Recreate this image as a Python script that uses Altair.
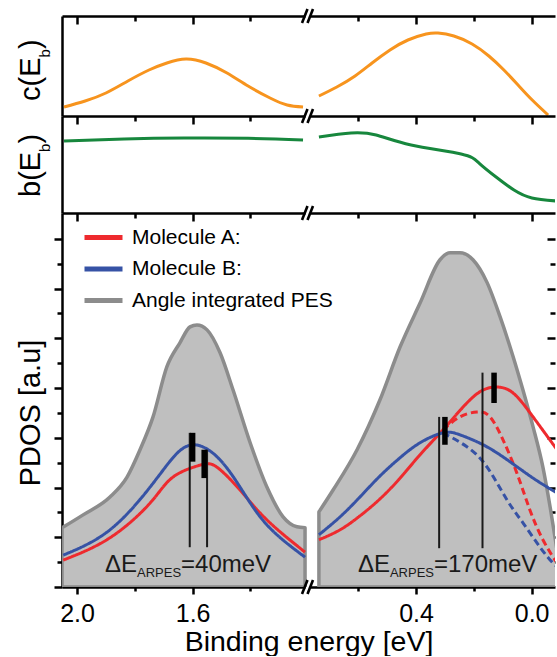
import altair as alt
import pandas as pd

FONT = "Liberation Sans"

# ---------------- data ----------------
# c(Eb) panel (arbitrary units 0..1)
c_left_E = [2.045, 1.972, 1.900, 1.824, 1.751, 1.689, 1.623, 1.554, 1.481, 1.408, 1.332, 1.273, 1.218]
c_left_v = [0.09, 0.15, 0.23, 0.35, 0.46, 0.53, 0.57, 0.53, 0.43, 0.30, 0.18, 0.11, 0.09]
c_right_E = [0.736, 0.674, 0.611, 0.552, 0.490, 0.428, 0.365, 0.324, 0.269, 0.206, 0.148, 0.096, 0.047, -0.002, -0.057]
c_right_v = [0.20, 0.29, 0.40, 0.53, 0.66, 0.76, 0.82, 0.83, 0.80, 0.72, 0.60, 0.46, 0.31, 0.16, 0.01]

# b(Eb) panel
b_left_E = [2.045, 1.837, 1.630, 1.408, 1.218]
b_left_v = [0.742, 0.763, 0.773, 0.770, 0.753]
b_right_E = [0.736, 0.625, 0.538, 0.417, 0.244, 0.182, 0.123, 0.061, -0.001, -0.085]
b_right_v = [0.784, 0.825, 0.804, 0.701, 0.608, 0.515, 0.371, 0.237, 0.155, 0.124]

# angle integrated PES
pes_left_E = [2.052, 1.979, 1.886, 1.827, 1.782, 1.737, 1.689, 1.644, 1.609, 1.585, 1.550, 1.505, 1.460, 1.401, 1.343, 1.287, 1.239, 1.211]
pes_left_v = [1.19, 1.45, 1.81, 2.21, 2.76, 3.42, 4.43, 4.91, 5.23, 5.27, 5.17, 4.71, 3.96, 2.90, 2.01, 1.41, 1.21, 1.19]
pes_right_E = [0.736, 0.687, 0.604, 0.525, 0.455, 0.386, 0.317, 0.282, 0.248, 0.203, 0.154, 0.109, 0.064, 0.030, -0.005, -0.039, -0.064, -0.088]
pes_right_v = [1.51, 1.95, 2.76, 3.76, 4.83, 5.71, 6.58, 6.72, 6.72, 6.58, 6.12, 5.43, 4.63, 3.96, 3.22, 2.41, 1.61, 0.74]

# Molecule A (red)
A_left_E = [2.048, 1.886, 1.747, 1.668, 1.574, 1.516, 1.436, 1.343, 1.211]
A_left_v = [0.54, 0.99, 1.69, 2.21, 2.45, 2.41, 1.95, 1.35, 0.70]
A_right_E = [0.736, 0.663, 0.594, 0.525, 0.455, 0.386, 0.307, 0.224, 0.168, 0.120, 0.064, -0.005, -0.088]
A_right_v = [0.95, 1.15, 1.43, 1.77, 2.19, 2.66, 3.16, 3.70, 3.96, 4.02, 3.90, 3.42, 2.76]
A_dash_E = [0.307, 0.248, 0.189, 0.144, 0.099, 0.051, 0.006, -0.039, -0.081, -0.088]
A_dash_v = [3.16, 3.42, 3.52, 3.42, 2.96, 2.29, 1.55, 0.95, 0.54, 0.48]

# Molecule B (blue)
B_left_E = [2.048, 1.886, 1.747, 1.668, 1.599, 1.516, 1.436, 1.343, 1.211]
B_left_v = [0.64, 1.15, 2.01, 2.60, 2.86, 2.62, 2.01, 1.25, 0.60]
B_right_E = [0.736, 0.663, 0.594, 0.525, 0.455, 0.386, 0.307, 0.248, 0.168, 0.085, -0.005, -0.088]
B_right_v = [1.05, 1.41, 1.81, 2.23, 2.60, 2.90, 3.10, 3.06, 2.86, 2.56, 2.19, 1.89]
B_dash_E = [0.307, 0.224, 0.154, 0.085, 0.030, -0.029, -0.074, -0.088]
B_dash_v = [3.10, 2.82, 2.41, 1.75, 1.29, 0.80, 0.48, 0.42]

# peak markers
thin_E = [1.61, 1.55, 0.32, 0.17]
thin_top = [3.10, 2.76, 3.42, 4.31]
thin_bot = [0.80, 0.80, 0.78, 0.78]
thick_E = [1.60, 1.56, 0.30, 0.13]
thick_top = [3.10, 2.76, 3.42, 4.31]
thick_bot = [2.52, 2.19, 2.86, 3.70]

# annotations
ann_E = [1.903, 0.601]
ann_v = [0.30, 0.30]
ann_text = ["=40meV", "=170meV"]

series_names = ["Molecule A:", "Molecule B:", "Angle integrated PES"]
series_colors = ["#EE2A2E", "#3652A5", "#8C8C8C"]

x_major = [2.0, 1.6, 0.4, 0.0]
x_minor = [1.8, 1.4, 0.6, 0.2]

# ---------------- layout constants ----------------
SHIFT = 0.427      # offset of the low-energy segment after the axis break
BREAK_U = 1.19
PX_PER_U = 289.0
W = 493
H_C, H_B, H_M = 100, 97, 374
U_MAX = 2.052
U_MIN = U_MAX - W / PX_PER_U
Y_MAX = 7.52
GAP = [243, 5, 3000]
CURVE = "natural"


def to_u(e):
    return e if e > 1.0 else e + SHIFT


def seg_frame(pairs):
    rows = []
    for E, v, extra in pairs:
        for e, val in zip(E, v):
            r = {"E": e, "u": to_u(e), "v": val}
            r.update(extra)
            rows.append(r)
    return pd.DataFrame(rows)


c_df = seg_frame([(c_left_E, c_left_v, {"seg": "L"}), (c_right_E, c_right_v, {"seg": "R"})])
b_df = seg_frame([(b_left_E, b_left_v, {"seg": "L"}), (b_right_E, b_right_v, {"seg": "R"})])
pes_df = seg_frame([
    (pes_left_E, pes_left_v, {"seg": "L", "series": series_names[2]}),
    (pes_right_E, pes_right_v, {"seg": "R", "series": series_names[2]}),
])
mol_df = seg_frame([
    (A_left_E, A_left_v, {"curve": "AL", "series": series_names[0], "style": "solid"}),
    (A_right_E, A_right_v, {"curve": "AR", "series": series_names[0], "style": "solid"}),
    (A_dash_E, A_dash_v, {"curve": "AD", "series": series_names[0], "style": "dashed"}),
    (B_left_E, B_left_v, {"curve": "BL", "series": series_names[1], "style": "solid"}),
    (B_right_E, B_right_v, {"curve": "BR", "series": series_names[1], "style": "solid"}),
    (B_dash_E, B_dash_v, {"curve": "BD", "series": series_names[1], "style": "dashed"}),
])
thin_df = pd.DataFrame({"u": [to_u(e) for e in thin_E], "top": thin_top, "bot": thin_bot})
thick_df = pd.DataFrame({"u": [to_u(e) for e in thick_E], "top": thick_top, "bot": thick_bot})
ann_df = pd.DataFrame({"u": [to_u(e) for e in ann_E], "v": ann_v, "t": ann_text})
one = pd.DataFrame({"k": [0]})

# ---------------- scales / axes ----------------
xscale = alt.Scale(domain=[U_MAX, U_MIN], nice=False, zero=False)
ymain = alt.Scale(domain=[0, Y_MAX], nice=False, zero=False)
yunit = alt.Scale(domain=[0, 1], nice=False, zero=False)
stroke_scale = alt.Scale(domain=series_names, range=series_colors)

x_ticks = sorted([to_u(e) for e in x_major + x_minor], reverse=True)
major_test = " || ".join(f"abs(datum.value - {to_u(e)}) < 1e-6" for e in x_major)


def cond(test, a, b):
    return {"condition": {"test": test, "value": a}, "value": b}


def top_frame_axis(h):
    return alt.Axis(orient="bottom", offset=-h, values=x_ticks, labels=False, title=None,
                    domainColor="black", domainWidth=2.5, domainDash=GAP,
                    tickColor="black", tickWidth=2.5, tickSize=cond(major_test, 8, 5), grid=False)


x_bottom_axis = alt.Axis(
    orient="bottom", values=x_ticks, grid=False,
    labelExpr=f"({major_test}) ? format(datum.value > {BREAK_U} ? datum.value : datum.value - {SHIFT}, '.1f') : ''",
    labelFont=FONT, labelFontSize=25, labelColor="black", labelBaseline="alphabetic",
    labelPadding=27.5, labelOverlap=False, labelFlush=False,
    domainColor="black", domainWidth=2.5, domainDash=GAP,
    tickColor="black", tickWidth=2.5, tickSize=cond(major_test, 7, 4),
    title="Binding energy [eV]", titleFont=FONT, titleFontSize=28.5, titleFontWeight="normal",
    titleColor="black", titleBaseline="alphabetic", titleY=63.5,
)

y_vals = [i * 0.5 for i in range(0, 15)]
y_left_axis = alt.Axis(orient="left", values=y_vals, labels=False, title=None, grid=False,
                       domainColor="black", domainWidth=2.5, tickColor="black", tickWidth=2.5,
                       tickSize=cond("datum.value % 1 == 0", 8, 5))
y_right_axis = alt.Axis(orient="left", offset=-W, values=y_vals[1:], labels=False, title=None,
                        grid=False, domain=False, tickColor="black", tickWidth=2.5,
                        tickSize=cond("datum.value % 1 == 0", 8, 5))
y_plain_axis = alt.Axis(orient="left", ticks=False, labels=False, title=None, grid=False,
                        domainColor="black", domainWidth=2.5)

# legend coordinates are relative to the top-left of the first panel
legend = alt.Legend(orient="none", legendX=29, legendY=H_C + H_B + 12, title=None, padding=0,
                    symbolType="M-1.9,0L1.9,0", symbolSize=400, symbolStrokeWidth=5,
                    labelFont=FONT, labelFontSize=21, labelColor="black", labelOffset=16,
                    labelLimit=0, rowPadding=8.5, symbolOpacity=1)


def break_marks(y):
    out = []
    for x0 in (240, 245.5):
        out.append(alt.Chart(one).mark_rule(color="black", strokeWidth=2.6, strokeCap="butt").encode(
            x=alt.value(x0), x2=alt.value(x0 + 5.5), y=alt.value(y + 7), y2=alt.value(y - 7)))
    return out


def rot_title(parts, y0, sub_dx=10):
    out = []
    y = y0
    for text, size, is_sub, adv in parts:
        out.append(alt.Chart(one).mark_text(angle=270, align="left", baseline="alphabetic",
                                            font=FONT, fontSize=size, color="black").encode(
            x=alt.value(-22 + (sub_dx if is_sub else 0)), y=alt.value(y), text=alt.value(text)))
        y -= adv
    return out


def line_panel(df, color, h):
    return alt.Chart(df).mark_line(color=color, strokeWidth=3, interpolate=CURVE, clip=True).encode(
        x=alt.X("u:Q", scale=xscale, axis=top_frame_axis(h)),
        y=alt.Y("v:Q", scale=yunit, axis=y_plain_axis),
        detail="seg:N",
        order=alt.Order("u:Q", sort="descending"),
    )


# ---------------- c panel ----------------
c_line = line_panel(c_df, "#F7941E", H_C)
anchor = alt.Chart(one).mark_rule(opacity=0).encode(
    x=alt.value(-62), x2=alt.value(-62), y=alt.value(-16), y2=alt.value(-15))
c_title = rot_title([("c(E", 29, False, 43.5), ("b", 15, True, 8.5), (")", 29, False, 0)], 85)
c_panel = alt.layer(c_line, anchor, *c_title, *break_marks(0)).properties(width=W, height=H_C)

# ---------------- b panel ----------------
b_line = line_panel(b_df, "#17873D", H_B)
b_title = rot_title([("b(E", 29, False, 45.1), ("b", 15, True, 8.5), (")", 29, False, 0)], 81)
b_panel = alt.layer(b_line, *b_title, *break_marks(0)).properties(width=W, height=H_B)

# ---------------- PDOS panel ----------------
area = alt.Chart(pes_df).mark_area(interpolate="monotone", fill="#BFBFBF", fillOpacity=1,
                                   strokeWidth=3.5, strokeJoin="round", clip=True).encode(
    x=alt.X("u:Q", scale=xscale, axis=x_bottom_axis),
    y=alt.Y("v:Q", scale=ymain, axis=y_left_axis, stack=None),
    stroke=alt.Stroke("series:N", scale=stroke_scale, legend=legend),
    detail="seg:N",
)
lines = alt.Chart(mol_df).mark_line(interpolate=CURVE, strokeWidth=3, clip=True).encode(
    x=alt.X("u:Q", scale=xscale, axis=top_frame_axis(H_M)),
    y=alt.Y("v:Q", scale=ymain, axis=y_right_axis),
    stroke=alt.Stroke("series:N", scale=stroke_scale, legend=legend),
    strokeDash=alt.StrokeDash("style:N", scale=alt.Scale(domain=["solid", "dashed"], range=[[1, 0], [7, 4]]), legend=None),
    detail="curve:N",
    order=alt.Order("u:Q", sort="descending"),
)
thin = alt.Chart(thin_df).mark_rule(color="#1a1a1a", strokeWidth=2).encode(
    x=alt.X("u:Q", scale=xscale, axis=None), y=alt.Y("top:Q", scale=ymain, axis=None), y2="bot:Q")
thick = alt.Chart(thick_df).mark_rule(color="black", strokeWidth=5.5, strokeCap="butt").encode(
    x=alt.X("u:Q", scale=xscale, axis=None), y=alt.Y("top:Q", scale=ymain, axis=None), y2="bot:Q")
t_delta = alt.Chart(ann_df).mark_text(text="ΔE", align="left", baseline="alphabetic", font=FONT,
                                      fontSize=24, color="#1a1a1a").encode(
    x=alt.X("u:Q", scale=xscale, axis=None), y=alt.Y("v:Q", scale=ymain, axis=None))
t_sub = alt.Chart(ann_df).mark_text(text="ARPES", align="left", baseline="alphabetic", font=FONT,
                                    fontSize=13, color="#1a1a1a", dx=32, dy=5).encode(
    x=alt.X("u:Q", scale=xscale, axis=None), y=alt.Y("v:Q", scale=ymain, axis=None))
t_val = alt.Chart(ann_df).mark_text(align="left", baseline="alphabetic", font=FONT,
                                    fontSize=24, color="#1a1a1a", dx=76).encode(
    x=alt.X("u:Q", scale=xscale, axis=None), y=alt.Y("v:Q", scale=ymain, axis=None), text="t:N")
pdos_title = alt.Chart(one).mark_text(angle=270, align="center", baseline="alphabetic", font=FONT,
                                      fontSize=29, color="black").encode(
    x=alt.value(-22), y=alt.value(200), text=alt.value("PDOS [a.u]"))

main_panel = alt.layer(
    area, lines, thin, thick, t_delta, t_sub, t_val, pdos_title,
    *break_marks(0), *break_marks(H_M)
).resolve_axis(x="independent", y="independent").properties(width=W, height=H_M)

chart = alt.vconcat(c_panel, b_panel, main_panel, spacing=0, bounds="flush").properties(
    padding={"left": 0, "top": 0, "right": 0, "bottom": 0}
).configure_view(stroke=None)

chart.save("out.html", embed_options={"renderer": "svg", "actions": False})
